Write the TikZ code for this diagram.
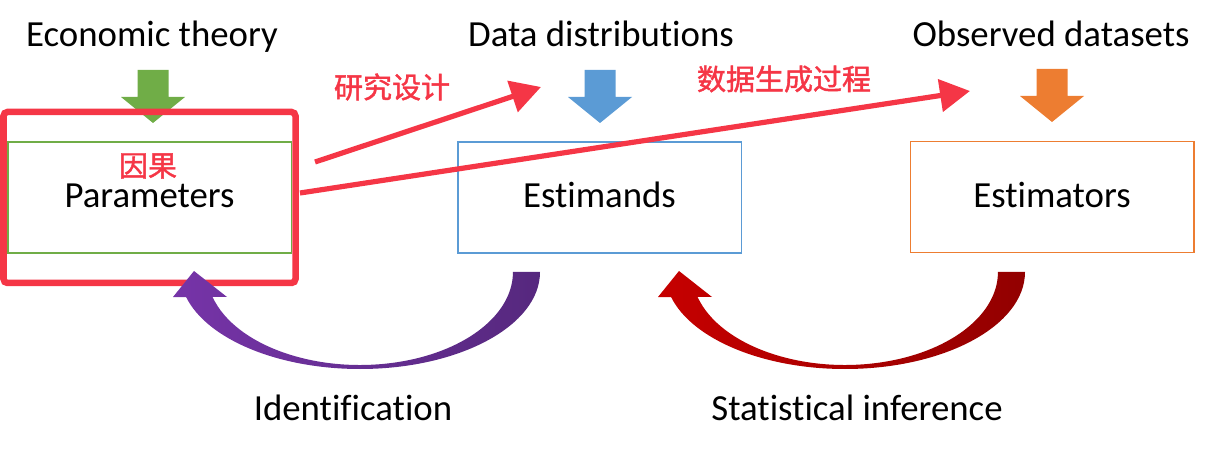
\documentclass[tikz,border=0pt]{standalone}
\usepackage{fontspec}
\setmainfont[Ligatures = CommonOff]{Carlito}
\newfontfamily\cjk[AutoFakeBold=1.5]{Noto Sans CJK SC}
\usepackage{xcolor}
\usepackage{tikz}
\usetikzlibrary{arrows.meta}
\definecolor{paramgreen}{RGB}{112,173,71}
\definecolor{estblue}{RGB}{91,155,213}
\definecolor{estorange}{RGB}{237,125,49}
\definecolor{notered}{RGB}{245,54,70}
\definecolor{identlight}{RGB}{118,52,168}
\definecolor{identdark}{RGB}{86,40,126}
\definecolor{inferlight}{RGB}{198,0,0}
\definecolor{inferdark}{RGB}{146,0,0}
\tikzset{
box/.style = { rectangle, draw = #1, line width = 0.75pt, minimum width = 141.75pt, minimum height = 55.5pt, inner sep = 0pt, text height = 13pt, text depth = 2.5pt, font = \fontsize{18.4}{22}\selectfont },
label text/.style = { text height = 13pt, text depth = 2.5pt, inner sep = 0pt, font = \fontsize{18.4}{22}\selectfont },
note/.style = { text = notered, inner sep = 0pt, font = \cjk\bfseries\fontsize{14.5}{17}\selectfont },
red link/.style = { draw = notered, line width = 2.6pt, -{Triangle[length = 15pt, width = 16pt]} },
}
\tikzset{
pics/down arrow/.style = {
        code = {
        \path[fill = #1] (-15.5, 0) -- (-15.5, 27) -- (-32, 27) -- (0, 53) -- (32, 27) -- (15.5, 27) -- (15.5, 0) -- cycle;
        }
    },
pics/turn arrow/.style args = {#1, #2}{
        code = {
        % outer arc, head, then inner arc back to the tail
        \shade[left color = #1, right color = #2] (180, 0) arc[start angle = 0, end angle = 165.06, x radius = 180, y radius = 97] -- (-187, 25) -- (-166, -1) -- (-133, 25) -- (-147.4, 25) arc[start angle = 164.4, end angle = 0, x radius = 153, y radius = 93] -- cycle;
        }
    }
}

\begin{document}
\begin{tikzpicture}[x = 0.5pt, y = -0.5pt]
    \useasboundingbox (0, 0) rectangle (1215, 454);
    \node[label text] (theory) at (152, 36.2) {Economic theory};
    \node[label text] (distrib) at (601, 36.2) {Data distributions};
    \node[label text] (observed) at (1051, 36.2) {Observed datasets};
    \draw (153, 70) pic{down arrow = paramgreen};
    \draw (600, 70) pic{down arrow = estblue};
    \draw (1052, 69) pic{down arrow = estorange};
    \node[box = paramgreen] (params) at (149.5, 197.5) {Parameters};
    \node[box = estblue] (estimands) at (599.5, 197.5) {Estimands};
    \node[box = estorange] (estimators) at (1052, 197) {Estimators};
    \node[draw = notered, line width = 3.25pt, rounded corners = 2pt, minimum width = 146pt, minimum height = 85.5pt] (focus) at (149.5, 197.5) {};
    \node[note] (causal) at (148, 166) {因果};
    \node[note] (design) at (392, 87) {研究设计};
    \node[note] (dgp) at (784, 79) {数据生成过程};
    \coordinate (design tail) at (315, 162);
    \coordinate (design head) at (541, 87);
    \coordinate (dgp tail) at (300, 193);
    \coordinate (dgp head) at (970, 91);
    \draw[red link] (design tail) -- (design head);
    \draw[red link] (dgp tail) -- (dgp head);
    \draw (360, 272) pic{turn arrow = {identlight, identdark}};
    \draw (845, 272) pic{turn arrow = {inferlight, inferdark}};
    \node[label text] (ident) at (353, 409.5) {Identification};
    \node[label text] (inference) at (857, 409.5) {Statistical inference};
  \end{tikzpicture}
\end{document}
